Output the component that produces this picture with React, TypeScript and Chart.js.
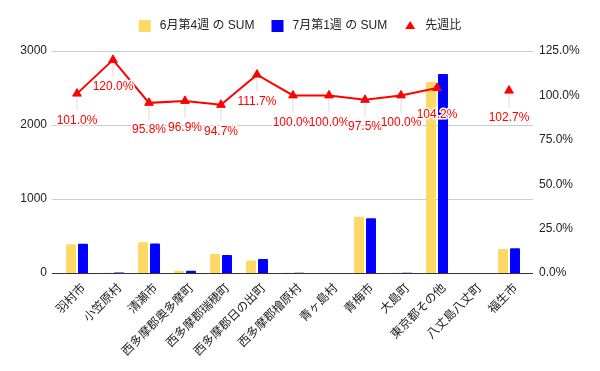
import React, { useEffect, useRef } from "react";
import { Chart, registerables } from "chart.js";
Chart.register(...registerables);

const FONT = "Arial, 'Liberation Sans', 'Noto Sans CJK JP', sans-serif";

const categories = [
  "羽村市",
  "小笠原村",
  "清瀬市",
  "西多摩郡奥多摩町",
  "西多摩郡瑞穂町",
  "西多摩郡日の出町",
  "西多摩郡檜原村",
  "青ヶ島村",
  "青梅市",
  "大島町",
  "東京都その他",
  "八丈島八丈町",
  "福生市",
];
const juneWeek4 = [390, 5, 415, 32, 257, 170, 3, 1, 760, 2, 2580, null, 325];
const julyWeek1 = [394, 6, 398, 31, 243, 190, 3, 1, 741, 2, 2688, null, 334];
const weekRatio = [101.0, 120.0, 95.8, 96.9, 94.7, 111.7, 100.0, 100.0, 97.5, 100.0, 104.2, null, 102.7];
const leftTicks = [0, 1000, 2000, 3000];
const rightTicks = [0, 25, 50, 75, 100, 125];
const seriesNames = ["6月第4週 の SUM", "7月第1週 の SUM", "先週比"];
const seriesColors = ["#ffd966", "#0000ff", "#ff0000"];

const gridPlugin = {
  id: "extGrid",
  beforeDatasetsDraw(chart: any) {
    const { ctx, chartArea, scales } = chart;
    const y = scales.y;
    ctx.save();
    leftTicks.forEach((v) => {
      const py = Math.round(y.getPixelForValue(v)) + 0.5;
      ctx.strokeStyle = v === 0 ? "#333333" : "#cccccc";
      ctx.lineWidth = 1;
      ctx.beginPath();
      ctx.moveTo(chartArea.left - 7, py);
      ctx.lineTo(chartArea.right + 6, py);
      ctx.stroke();
    });
    ctx.restore();
  },
};

const labelPlugin = {
  id: "ratioLabels",
  afterDatasetsDraw(chart: any) {
    const { ctx } = chart;
    const idx = chart.data.datasets.findIndex((d: any) => d.type === "line");
    const meta = chart.getDatasetMeta(idx);
    ctx.save();
    meta.data.forEach((pt: any, i: number) => {
      const v = weekRatio[i];
      if (v === null || v === undefined) return;
      const x = pt.x;
      const y = pt.y;
      ctx.strokeStyle = "#eeeeee";
      ctx.lineWidth = 2;
      ctx.beginPath();
      ctx.moveTo(x, y + 4);
      ctx.lineTo(x, y + 17);
      ctx.stroke();
      ctx.font = `12px ${FONT}`;
      ctx.textAlign = "center";
      ctx.textBaseline = "middle";
      const t = v.toFixed(1) + "%";
      ctx.lineWidth = 3;
      ctx.strokeStyle = "#ffffff";
      ctx.lineJoin = "round";
      ctx.strokeText(t, x, y + 27);
      ctx.fillStyle = "#ff0000";
      ctx.fillText(t, x, y + 27);
    });
    ctx.restore();
  },
};

const legendPlugin = {
  id: "customLegend",
  afterDraw(chart: any) {
    const { ctx, width } = chart;
    ctx.save();
    ctx.font = `12px ${FONT}`;
    ctx.textBaseline = "middle";
    ctx.textAlign = "left";
    const boxW = 12;
    const gapText = 9;
    const gapItem = 17;
    const widths = seriesNames.map((n) => ctx.measureText(n).width);
    const total =
      widths.reduce((a, w) => a + boxW + gapText + w, 0) + gapItem * (seriesNames.length - 1);
    let x = (width - total) / 2;
    const cy = 26;
    seriesNames.forEach((n, i) => {
      ctx.fillStyle = seriesColors[i];
      if (i < 2) {
        ctx.fillRect(x, cy - 6, boxW, boxW);
      } else {
        ctx.beginPath();
        ctx.moveTo(x + 6, cy - 5);
        ctx.lineTo(x + 11, cy + 3);
        ctx.lineTo(x + 1, cy + 3);
        ctx.closePath();
        ctx.fill();
      }
      ctx.fillStyle = "#222222";
      ctx.fillText(n, x + boxW + gapText, cy);
      x += boxW + gapText + widths[i] + gapItem;
    });
    ctx.restore();
  },
};

export default function App() {
  const ref = useRef<HTMLCanvasElement | null>(null);
  useEffect(() => {
    if (!ref.current) return;
    const chart = new Chart(ref.current, {
      type: "bar",
      data: {
        labels: categories,
        datasets: [
          {
            type: "line",
            label: seriesNames[2],
            data: weekRatio,
            yAxisID: "y1",
            borderColor: seriesColors[2],
            backgroundColor: seriesColors[2],
            borderWidth: 2,
            pointStyle: "triangle",
            pointRadius: 5,
            pointBorderWidth: 1,
            pointBackgroundColor: seriesColors[2],
            pointBorderColor: seriesColors[2],
            spanGaps: false,
            order: 0,
          } as any,
          {
            type: "bar",
            label: seriesNames[0],
            data: juneWeek4,
            yAxisID: "y",
            backgroundColor: seriesColors[0],
            categoryPercentage: 0.667,
            barPercentage: 0.83,
            borderRadius: 1,
            order: 1,
          },
          {
            type: "bar",
            label: seriesNames[1],
            data: julyWeek1,
            yAxisID: "y",
            backgroundColor: seriesColors[1],
            categoryPercentage: 0.667,
            barPercentage: 0.83,
            borderRadius: 1,
            order: 1,
          },
        ],
      },
      options: {
        animation: false,
        responsive: true,
        maintainAspectRatio: false,
        layout: { padding: { top: 51, left: 0, right: 0, bottom: 0 } },
        plugins: {
          legend: { display: false },
          tooltip: { enabled: false },
        },
        scales: {
          x: {
            grid: { display: false, drawTicks: false },
            border: { display: false },
            ticks: {
              autoSkip: false,
              minRotation: 45,
              maxRotation: 45,
              padding: 8,
              labelOffset: 7,
              color: "#222222",
              font: { family: FONT, size: 12 },
            },
            afterFit: (s: any) => {
              s.height = 98;
            },
          },
          y: {
            position: "left",
            min: leftTicks[0],
            max: leftTicks[leftTicks.length - 1],
            grid: { display: false, drawTicks: false },
            border: { display: false },
            ticks: {
              stepSize: 1000,
              padding: 12,
              color: "#222222",
              font: { family: FONT, size: 12 },
              callback: (v: any) => String(v),
            },
            afterFit: (s: any) => {
              s.width = 59;
            },
          },
          y1: {
            position: "right",
            min: rightTicks[0],
            max: rightTicks[rightTicks.length - 1],
            grid: { display: false, drawTicks: false },
            border: { display: false },
            ticks: {
              stepSize: 25,
              padding: 12,
              color: "#222222",
              font: { family: FONT, size: 12 },
              callback: (v: any) => Number(v).toFixed(1) + "%",
            },
            afterFit: (s: any) => {
              s.width = 73;
            },
          },
        },
      },
      plugins: [gridPlugin, labelPlugin, legendPlugin],
    });
    return () => chart.destroy();
  }, []);
  return (
    <div style={{ position: "fixed", left: 0, top: 0, width: 600, height: 371, background: "#fff" }}>
      <canvas ref={ref} />
    </div>
  );
}
